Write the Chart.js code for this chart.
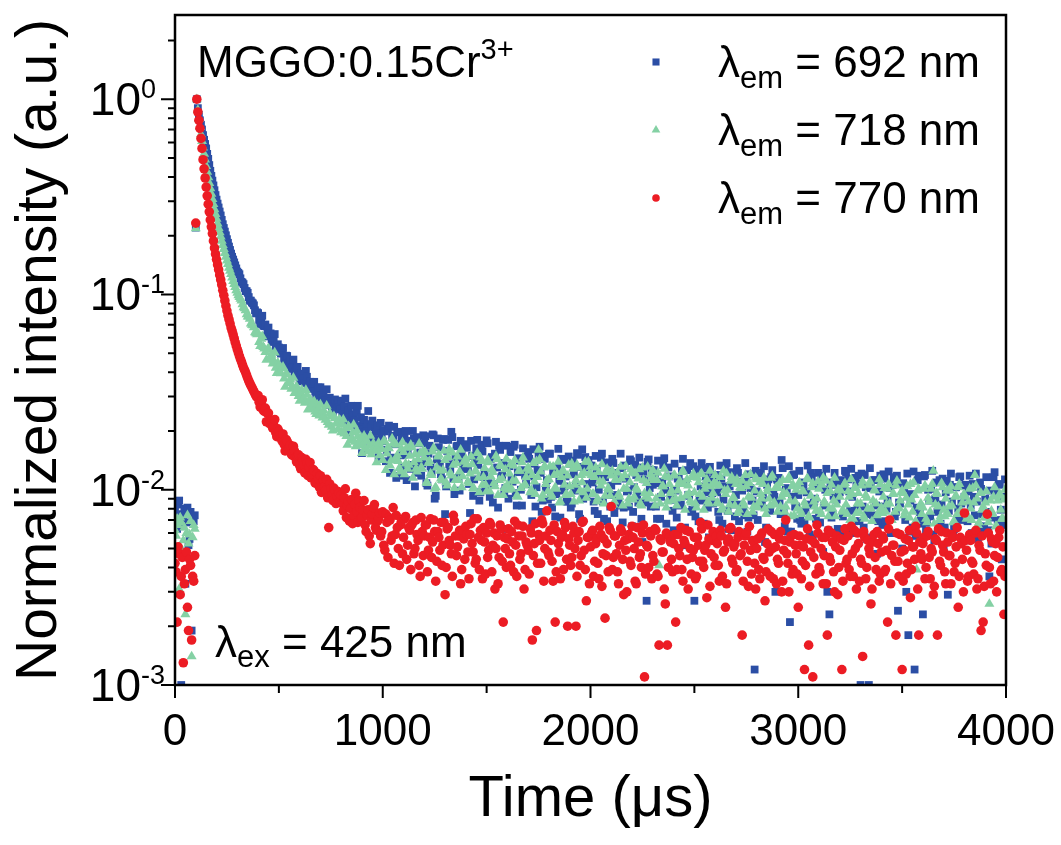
<!DOCTYPE html>
<html>
<head>
<meta charset="utf-8">
<script src="https://cdn.jsdelivr.net/npm/chart.js@4/dist/chart.umd.min.js"></script>
<style>
    html, body { margin: 0; background: #fff; }
</style>
</head>
<body>
<canvas id="decay" width="1061" height="845"></canvas>
<script>
// sampling interval of the decay curves (µs); sample i is at t = i * timeStep
const timeStep = 5;
const emissionNm = [692, 718, 770];
const xTickValues = [0, 1000, 2000, 3000, 4000];
const yDecades = [1, 0.1, 0.01, 0.001];
const yExponents = ['0', '-1', '-2', '-3'];

// one row = 100 µs
const intensity692 = [
    0.0078, 0.0072, 0.0063, 0.0084, 0.0088, 0.0065, 0.0010, 0.0075, 0.0071, 0.0080, 0.0033, 0.0068, 0.0081, 0.0052, 0.0056, 0.0077, 0.0019, 0.0070, 0.0069, 0.0074,
    0.220, 1.0, 0.90, 0.83, 0.78, 0.74, 0.70, 0.655, 0.62, 0.59, 0.56, 0.525, 0.495, 0.46, 0.43, 0.405, 0.383, 0.362, 0.342, 0.323,
    0.306, 0.292, 0.279, 0.266, 0.254, 0.241, 0.229, 0.219, 0.210, 0.201, 0.192, 0.184, 0.176, 0.169, 0.162, 0.156, 0.151, 0.146, 0.141, 0.136,
    0.131, 0.129, 0.127, 0.121, 0.116, 0.115, 0.113, 0.108, 0.104, 0.104, 0.102, 0.097, 0.093, 0.093, 0.091, 0.090, 0.088, 0.083, 0.080, 0.081,
    0.0803, 0.0741, 0.0705, 0.0758, 0.0778, 0.0693, 0.0688, 0.0702, 0.0610, 0.0664, 0.0677, 0.0621, 0.0632, 0.0589, 0.0571, 0.0602, 0.0627, 0.0543, 0.0512, 0.0556,
    0.0535, 0.0509, 0.0498, 0.0521, 0.0532, 0.0471, 0.0433, 0.0486, 0.0484, 0.0442, 0.0450, 0.0457, 0.0416, 0.0425, 0.0464, 0.0401, 0.0406, 0.0419, 0.0426, 0.0384,
    0.0359, 0.0381, 0.0393, 0.0366, 0.0370, 0.0352, 0.0406, 0.0379, 0.0337, 0.0346, 0.0357, 0.0331, 0.0328, 0.0349, 0.0357, 0.0318, 0.0297, 0.0322, 0.0334, 0.0305,
    0.0335, 0.0301, 0.0295, 0.0312, 0.0277, 0.0288, 0.0327, 0.0279, 0.0272, 0.0296, 0.0283, 0.0268, 0.0249, 0.0281, 0.0290, 0.0262, 0.0276, 0.0284, 0.0263, 0.0258,
    0.0286, 0.0247, 0.0221, 0.0268, 0.0293, 0.0231, 0.0238, 0.0256, 0.0191, 0.0219, 0.0269, 0.0244, 0.0241, 0.0226, 0.0204, 0.0251, 0.0269, 0.0212, 0.0206, 0.0235,
    0.0154, 0.0224, 0.0228, 0.0196, 0.0208, 0.0217, 0.0253, 0.0188, 0.0173, 0.0209, 0.0226, 0.0181, 0.0182, 0.0203, 0.0199, 0.0214, 0.0147, 0.0178, 0.0220, 0.0195,
    0.0177, 0.0202, 0.0199, 0.0140, 0.0160, 0.0205, 0.0213, 0.0122, 0.0146, 0.0189, 0.0185, 0.0210, 0.0171, 0.0115, 0.0197, 0.0198, 0.0118, 0.0150, 0.0184, 0.0130,
    0.0151, 0.0195, 0.0200, 0.0112, 0.0157, 0.0178, 0.0167, 0.0128, 0.0134, 0.0200, 0.0183, 0.0104, 0.0122, 0.0186, 0.0173, 0.0138, 0.0155, 0.0118, 0.0136, 0.0190,
    0.0173, 0.0188, 0.0108, 0.0105, 0.0153, 0.0168, 0.0132, 0.0123, 0.0192, 0.0190, 0.0090, 0.0093, 0.0143, 0.0183, 0.0165, 0.0135, 0.0120, 0.0113, 0.0180, 0.0182,
    0.0075, 0.0104, 0.0158, 0.0180, 0.0135, 0.0127, 0.0198, 0.0186, 0.0114, 0.0095, 0.0147, 0.0167, 0.0168, 0.0115, 0.0099, 0.0178, 0.0150, 0.0137, 0.0128, 0.0170,
    0.0171, 0.0164, 0.0128, 0.0107, 0.0076, 0.0178, 0.0149, 0.0093, 0.0113, 0.0144, 0.0163, 0.0180, 0.0134, 0.0088, 0.0097, 0.0170, 0.0157, 0.0116, 0.0123, 0.0101,
    0.0179, 0.0173, 0.0108, 0.0092, 0.0144, 0.0147, 0.0086, 0.0107, 0.0153, 0.0176, 0.0130, 0.0081, 0.0168, 0.0160, 0.0116, 0.0118, 0.0137, 0.0098, 0.0102, 0.0168,
    0.0063, 0.0090, 0.0132, 0.0156, 0.0113, 0.0110, 0.0166, 0.0170, 0.0096, 0.0083, 0.0123, 0.0145, 0.0141, 0.0100, 0.0083, 0.0163, 0.0126, 0.0119, 0.0107, 0.0148,
    0.0156, 0.0144, 0.0117, 0.0094, 0.0069, 0.0161, 0.0136, 0.0082, 0.0103, 0.0126, 0.0149, 0.0166, 0.0122, 0.0077, 0.0088, 0.0149, 0.0144, 0.0102, 0.0112, 0.0089,
    0.0153, 0.0153, 0.0092, 0.0081, 0.0123, 0.0130, 0.0073, 0.0095, 0.0131, 0.0162, 0.0111, 0.0072, 0.0144, 0.0142, 0.0099, 0.0104, 0.0117, 0.0087, 0.0087, 0.0148,
    0.0136, 0.0081, 0.0085, 0.0141, 0.0120, 0.0099, 0.0104, 0.0154, 0.0151, 0.0075, 0.0071, 0.0131, 0.0161, 0.0090, 0.0130, 0.0147, 0.0094, 0.0107, 0.0142, 0.0133,
    0.0132, 0.0133, 0.0109, 0.0087, 0.0078, 0.0149, 0.0128, 0.0075, 0.0100, 0.0117, 0.0146, 0.0153, 0.0087, 0.0071, 0.0116, 0.0138, 0.0069, 0.0094, 0.0124, 0.0082,
    0.0105, 0.0144, 0.0137, 0.0076, 0.0094, 0.0122, 0.0111, 0.0089, 0.0083, 0.0153, 0.0129, 0.0068, 0.0081, 0.0133, 0.0114, 0.0098, 0.0099, 0.0082, 0.0143, 0.0140,
    0.0065, 0.0077, 0.0103, 0.0134, 0.0119, 0.0094, 0.0086, 0.0146, 0.0130, 0.0071, 0.0054, 0.0124, 0.0113, 0.0086, 0.0027, 0.0139, 0.0143, 0.0102, 0.0082, 0.0126,
    0.0106, 0.0126, 0.0121, 0.0082, 0.0071, 0.0141, 0.0108, 0.0071, 0.0092, 0.0110, 0.0134, 0.0145, 0.0100, 0.0067, 0.0059, 0.0130, 0.0117, 0.0089, 0.0089, 0.0078,
    0.0062, 0.0136, 0.0099, 0.0072, 0.0114, 0.0115, 0.0083, 0.0084, 0.0125, 0.0144, 0.0052, 0.0064, 0.0109, 0.0126, 0.0094, 0.0093, 0.0137, 0.0077, 0.0079, 0.0132,
    0.0027, 0.0073, 0.0127, 0.0126, 0.0069, 0.0089, 0.0104, 0.0137, 0.0088, 0.0067, 0.0129, 0.0117, 0.0097, 0.0081, 0.0057, 0.0131, 0.0112, 0.0096, 0.0085, 0.0119,
    0.0118, 0.0119, 0.0097, 0.0077, 0.0070, 0.0133, 0.0114, 0.0067, 0.0089, 0.0104, 0.0130, 0.0137, 0.0078, 0.0063, 0.0104, 0.0123, 0.0062, 0.0084, 0.0111, 0.0073,
    0.0094, 0.0129, 0.0122, 0.0069, 0.0084, 0.0110, 0.0099, 0.0080, 0.0074, 0.0137, 0.0115, 0.0061, 0.0072, 0.0120, 0.0102, 0.0088, 0.0088, 0.0074, 0.0012, 0.0125,
    0.0098, 0.0070, 0.0083, 0.0121, 0.0122, 0.0085, 0.0091, 0.0132, 0.0054, 0.0064, 0.0106, 0.0113, 0.0080, 0.0078, 0.0116, 0.0126, 0.0095, 0.0092, 0.0030, 0.0114,
    0.0112, 0.0115, 0.0087, 0.0075, 0.0142, 0.0129, 0.0076, 0.0065, 0.0102, 0.0101, 0.0061, 0.0132, 0.0021, 0.0061, 0.0092, 0.0119, 0.0120, 0.0082, 0.0082, 0.0071,
    0.0094, 0.0125, 0.0070, 0.0067, 0.0109, 0.0106, 0.0068, 0.0078, 0.0097, 0.0133, 0.0084, 0.0059, 0.0122, 0.0116, 0.0057, 0.0086, 0.0090, 0.0071, 0.0105, 0.0122,
    0.0076, 0.0068, 0.0114, 0.0118, 0.0048, 0.0083, 0.0100, 0.0128, 0.0030, 0.0062, 0.0023, 0.0109, 0.0072, 0.0075, 0.0093, 0.0122, 0.0106, 0.0089, 0.0063, 0.0111,
    0.0097, 0.0112, 0.0058, 0.0073, 0.0103, 0.0125, 0.0123, 0.0063, 0.0113, 0.0098, 0.0078, 0.0128, 0.0092, 0.0060, 0.0069, 0.0115, 0.0107, 0.0079, 0.0118, 0.0069,
    0.0010, 0.0121, 0.0082, 0.0064, 0.0119, 0.0103, 0.0056, 0.0075, 0.0010, 0.0129, 0.0102, 0.0057, 0.0074, 0.0112, 0.0112, 0.0083, 0.0047, 0.0069, 0.0098, 0.0118,
    0.0082, 0.0066, 0.0120, 0.0114, 0.0069, 0.0080, 0.0089, 0.0124, 0.0102, 0.0060, 0.0060, 0.0106, 0.0116, 0.0073, 0.0077, 0.0118, 0.0024, 0.0086, 0.0085, 0.0107,
    0.0050, 0.0108, 0.0098, 0.0070, 0.0030, 0.0121, 0.0018, 0.0061, 0.0088, 0.0095, 0.0064, 0.0124, 0.0012, 0.0058, 0.0081, 0.0112, 0.0118, 0.0077, 0.0071, 0.0067,
    0.0023, 0.0117, 0.0119, 0.0062, 0.0068, 0.0100, 0.0088, 0.0073, 0.0101, 0.0125, 0.0059, 0.0055, 0.0090, 0.0109, 0.0077, 0.0080, 0.0112, 0.0067, 0.0084, 0.0114,
    0.0050, 0.0064, 0.0097, 0.0111, 0.0029, 0.0078, 0.0106, 0.0121, 0.0087, 0.0059, 0.0063, 0.0103, 0.0103, 0.0071, 0.0080, 0.0116, 0.0117, 0.0085, 0.0070, 0.0105,
    0.0092, 0.0106, 0.0055, 0.0069, 0.0098, 0.0118, 0.0083, 0.0060, 0.0107, 0.0092, 0.0074, 0.0121, 0.0087, 0.0056, 0.0065, 0.0109, 0.0101, 0.0075, 0.0063, 0.0065,
    0.0090, 0.0116, 0.0077, 0.0062, 0.0036, 0.0099, 0.0053, 0.0072, 0.0116, 0.0123, 0.0097, 0.0055, 0.0070, 0.0107, 0.0106, 0.0079, 0.0044, 0.0066, 0.0092, 0.0113
];

const intensity718 = [
    0.0062, 0.0058, 0.0071, 0.0066, 0.0031, 0.0072, 0.0068, 0.0049, 0.0055, 0.0064, 0.0023, 0.0060, 0.0074, 0.0053, 0.0059, 0.0069, 0.0014, 0.0057, 0.0066, 0.0063,
    0.218, 1.0, 0.88, 0.79, 0.72, 0.66, 0.61, 0.565, 0.525, 0.49, 0.455, 0.425, 0.398, 0.372, 0.35, 0.328, 0.308, 0.29, 0.273, 0.258,
    0.244, 0.231, 0.219, 0.208, 0.198, 0.188, 0.179, 0.171, 0.163, 0.156, 0.149, 0.143, 0.137, 0.132, 0.127, 0.122, 0.117, 0.113, 0.109, 0.105,
    0.102, 0.099, 0.097, 0.095, 0.093, 0.089, 0.086, 0.085, 0.083, 0.079, 0.077, 0.077, 0.075, 0.071, 0.0698, 0.0695, 0.0678, 0.064, 0.0632, 0.0625,
    0.0634, 0.0571, 0.0544, 0.0592, 0.0610, 0.0538, 0.0529, 0.0507, 0.0463, 0.0522, 0.0530, 0.0468, 0.0485, 0.0491, 0.0442, 0.0459, 0.0504, 0.0421, 0.0396, 0.0447,
    0.0433, 0.0402, 0.0395, 0.0418, 0.0426, 0.0371, 0.0336, 0.0392, 0.0389, 0.0351, 0.0360, 0.0367, 0.0329, 0.0338, 0.0374, 0.0313, 0.0315, 0.0339, 0.0326, 0.0302,
    0.0285, 0.0312, 0.0325, 0.0291, 0.0295, 0.0279, 0.0324, 0.0306, 0.0257, 0.0283, 0.0291, 0.0262, 0.0266, 0.0278, 0.0284, 0.0251, 0.0244, 0.0272, 0.0259, 0.0240,
    0.0273, 0.0241, 0.0234, 0.0256, 0.0237, 0.0228, 0.0269, 0.0222, 0.0215, 0.0247, 0.0237, 0.0210, 0.0201, 0.0238, 0.0233, 0.0219, 0.0218, 0.0204, 0.0229, 0.0226,
    0.0197, 0.0215, 0.0229, 0.0194, 0.0206, 0.0188, 0.0170, 0.0211, 0.0208, 0.0179, 0.0184, 0.0196, 0.0215, 0.0176, 0.0167, 0.0201, 0.0188, 0.0169, 0.0176, 0.0184,
    0.0154, 0.0171, 0.0189, 0.0162, 0.0180, 0.0177, 0.0157, 0.0168, 0.0189, 0.0152, 0.0159, 0.0173, 0.0164, 0.0158, 0.0138, 0.0166, 0.0174, 0.0150, 0.0164, 0.0161,
    0.0142, 0.0178, 0.0176, 0.0126, 0.0153, 0.0165, 0.0163, 0.0133, 0.0141, 0.0183, 0.0173, 0.0120, 0.0143, 0.0170, 0.0150, 0.0140, 0.0129, 0.0124, 0.0162, 0.0175,
    0.0156, 0.0120, 0.0136, 0.0164, 0.0128, 0.0134, 0.0149, 0.0170, 0.0165, 0.0115, 0.0138, 0.0152, 0.0128, 0.0124, 0.0143, 0.0172, 0.0154, 0.0130, 0.0128, 0.0158,
    0.0146, 0.0156, 0.0109, 0.0108, 0.0137, 0.0140, 0.0121, 0.0119, 0.0157, 0.0164, 0.0101, 0.0103, 0.0130, 0.0148, 0.0151, 0.0125, 0.0114, 0.0112, 0.0126, 0.0158,
    0.0142, 0.0109, 0.0105, 0.0147, 0.0161, 0.0122, 0.0118, 0.0155, 0.0134, 0.0102, 0.0112, 0.0137, 0.0148, 0.0112, 0.0124, 0.0160, 0.0103, 0.0117, 0.0139, 0.0140,
    0.0144, 0.0135, 0.0110, 0.0108, 0.0121, 0.0148, 0.0135, 0.0102, 0.0101, 0.0125, 0.0124, 0.0154, 0.0115, 0.0097, 0.0146, 0.0140, 0.0106, 0.0116, 0.0129, 0.0106,
    0.0098, 0.0142, 0.0138, 0.0098, 0.0117, 0.0127, 0.0123, 0.0108, 0.0104, 0.0149, 0.0143, 0.0094, 0.0112, 0.0134, 0.0132, 0.0114, 0.0094, 0.0102, 0.0127, 0.0144,
    0.0106, 0.0100, 0.0121, 0.0135, 0.0101, 0.0111, 0.0133, 0.0142, 0.0111, 0.0093, 0.0092, 0.0125, 0.0125, 0.0102, 0.0138, 0.0146, 0.0105, 0.0107, 0.0116, 0.0128,
    0.0130, 0.0125, 0.0097, 0.0100, 0.0119, 0.0137, 0.0110, 0.0095, 0.0140, 0.0116, 0.0160, 0.0143, 0.0124, 0.0090, 0.0094, 0.0130, 0.0132, 0.0107, 0.0112, 0.0098,
    0.0113, 0.0132, 0.0095, 0.0092, 0.0131, 0.0119, 0.0103, 0.0101, 0.0121, 0.0139, 0.0086, 0.0087, 0.0116, 0.0125, 0.0125, 0.0106, 0.0094, 0.0095, 0.0118, 0.0134,
    0.0104, 0.0095, 0.0136, 0.0128, 0.0087, 0.0106, 0.0112, 0.0134, 0.0130, 0.0088, 0.0099, 0.0119, 0.0109, 0.0097, 0.0122, 0.0139, 0.0091, 0.0101, 0.0139, 0.0121,
    0.0131, 0.0119, 0.0095, 0.0095, 0.0116, 0.0130, 0.0087, 0.0090, 0.0123, 0.0110, 0.0105, 0.0135, 0.0110, 0.0085, 0.0093, 0.0123, 0.0128, 0.0102, 0.0100, 0.0093,
    0.0118, 0.0125, 0.0084, 0.0087, 0.0113, 0.0112, 0.0122, 0.0095, 0.0092, 0.0131, 0.0114, 0.0083, 0.0101, 0.0119, 0.0132, 0.0101, 0.0085, 0.0090, 0.0109, 0.0127,
    0.0122, 0.0089, 0.0092, 0.0121, 0.0102, 0.0100, 0.0114, 0.0127, 0.0085, 0.0083, 0.0130, 0.0112, 0.0096, 0.0092, 0.0108, 0.0131, 0.0090, 0.0096, 0.0120, 0.0114,
    0.0126, 0.0112, 0.0083, 0.0090, 0.0112, 0.0122, 0.0041, 0.0085, 0.0095, 0.0104, 0.0104, 0.0128, 0.0117, 0.0081, 0.0087, 0.0116, 0.0107, 0.0096, 0.0099, 0.0088,
    0.0118, 0.0119, 0.0090, 0.0083, 0.0099, 0.0107, 0.0111, 0.0091, 0.0123, 0.0125, 0.0107, 0.0079, 0.0093, 0.0113, 0.0105, 0.0096, 0.0088, 0.0086, 0.0116, 0.0121,
    0.0097, 0.0085, 0.0081, 0.0115, 0.0109, 0.0095, 0.0120, 0.0121, 0.0092, 0.0079, 0.0101, 0.0107, 0.0113, 0.0087, 0.0085, 0.0125, 0.0104, 0.0091, 0.0096, 0.0109,
    0.0119, 0.0107, 0.0086, 0.0085, 0.0105, 0.0116, 0.0079, 0.0081, 0.0125, 0.0099, 0.0095, 0.0121, 0.0100, 0.0077, 0.0084, 0.0111, 0.0116, 0.0091, 0.0091, 0.0083,
    0.0107, 0.0113, 0.0076, 0.0079, 0.0103, 0.0102, 0.0111, 0.0086, 0.0083, 0.0119, 0.0104, 0.0075, 0.0092, 0.0108, 0.0120, 0.0091, 0.0077, 0.0082, 0.0099, 0.0115,
    0.0113, 0.0081, 0.0086, 0.0109, 0.0095, 0.0090, 0.0107, 0.0115, 0.0080, 0.0075, 0.0098, 0.0102, 0.0090, 0.0083, 0.0115, 0.0118, 0.0084, 0.0086, 0.0102, 0.0103,
    0.0077, 0.0102, 0.0108, 0.0082, 0.0092, 0.0112, 0.0097, 0.0077, 0.0082, 0.0095, 0.0112, 0.0116, 0.0088, 0.0073, 0.0104, 0.0106, 0.0074, 0.0087, 0.0100, 0.0080,
    0.0104, 0.0109, 0.0078, 0.0075, 0.0098, 0.0098, 0.0086, 0.0083, 0.0113, 0.0114, 0.0073, 0.0072, 0.0093, 0.0103, 0.0108, 0.0087, 0.0082, 0.0078, 0.0090, 0.0110,
    0.0101, 0.0078, 0.0075, 0.0106, 0.0115, 0.0087, 0.0085, 0.0111, 0.0096, 0.0073, 0.0080, 0.0098, 0.0106, 0.0080, 0.0088, 0.0115, 0.0073, 0.0084, 0.0100, 0.0100,
    0.0092, 0.0099, 0.0077, 0.0079, 0.0106, 0.0108, 0.0084, 0.0075, 0.0098, 0.0092, 0.0070, 0.0113, 0.0095, 0.0071, 0.0102, 0.0103, 0.0076, 0.0085, 0.0096, 0.0077,
    0.0085, 0.0105, 0.0110, 0.0073, 0.0071, 0.0094, 0.0091, 0.0080, 0.0106, 0.0110, 0.0080, 0.0069, 0.0088, 0.0100, 0.0099, 0.0085, 0.0074, 0.0076, 0.0113, 0.0107,
    0.0081, 0.0076, 0.0092, 0.0102, 0.0077, 0.0084, 0.0101, 0.0107, 0.0085, 0.0070, 0.0070, 0.0095, 0.0095, 0.0077, 0.0105, 0.0111, 0.0080, 0.0081, 0.0088, 0.0097,
    0.0099, 0.0096, 0.0074, 0.0077, 0.0091, 0.0104, 0.0084, 0.0072, 0.0107, 0.0089, 0.0077, 0.0109, 0.0094, 0.0069, 0.0039, 0.0099, 0.0101, 0.0082, 0.0085, 0.0075,
    0.0081, 0.0101, 0.0105, 0.0071, 0.0068, 0.0091, 0.0087, 0.0077, 0.0101, 0.0107, 0.0125, 0.0067, 0.0084, 0.0096, 0.0095, 0.0082, 0.0070, 0.0073, 0.0108, 0.0103,
    0.0079, 0.0073, 0.0090, 0.0099, 0.0075, 0.0082, 0.0099, 0.0104, 0.0083, 0.0068, 0.0069, 0.0092, 0.0093, 0.0075, 0.0103, 0.0107, 0.0078, 0.0078, 0.0086, 0.0094,
    0.0094, 0.0092, 0.0071, 0.0074, 0.0087, 0.0101, 0.0080, 0.0070, 0.0102, 0.0086, 0.0119, 0.0105, 0.0090, 0.0066, 0.0068, 0.0096, 0.0096, 0.0079, 0.0082, 0.0072,
    0.0086, 0.0098, 0.0072, 0.0068, 0.0026, 0.0088, 0.0078, 0.0075, 0.0092, 0.0103, 0.0065, 0.0065, 0.0088, 0.0093, 0.0095, 0.0079, 0.0071, 0.0071, 0.0089, 0.0100
];

const intensity770 = [
    0.0042, 0.0038, 0.0021, 0.0051, 0.0047, 0.0029, 0.0036, 0.0045, 0.0013, 0.0033, 0.0039, 0.0048, 0.0025, 0.0019, 0.0044, 0.0041, 0.0017, 0.0036, 0.0034, 0.0046,
    0.232, 1.0, 0.86, 0.78, 0.71, 0.63, 0.56, 0.49, 0.44, 0.395, 0.355, 0.32, 0.29, 0.265, 0.241, 0.222, 0.205, 0.188, 0.173, 0.161,
    0.151, 0.142, 0.134, 0.126, 0.119, 0.112, 0.105, 0.099, 0.093, 0.0875, 0.0825, 0.078, 0.0745, 0.071, 0.0675, 0.065, 0.0622, 0.0595, 0.0568, 0.0545,
    0.0523, 0.0503, 0.0484, 0.0467, 0.0452, 0.0436, 0.0421, 0.041, 0.0398, 0.0385, 0.0372, 0.0361, 0.0351, 0.0342, 0.0334, 0.0326, 0.0318, 0.031, 0.0303, 0.0297,
    0.0304, 0.0281, 0.0265, 0.0279, 0.0289, 0.0255, 0.0252, 0.0262, 0.0223, 0.0246, 0.0247, 0.0218, 0.0227, 0.0224, 0.0207, 0.0214, 0.0229, 0.0196, 0.0187, 0.0205,
    0.0199, 0.0189, 0.0184, 0.0178, 0.0193, 0.0171, 0.0158, 0.0181, 0.0177, 0.0160, 0.0165, 0.0169, 0.0152, 0.0150, 0.0167, 0.0158, 0.0146, 0.0139, 0.0149, 0.0151,
    0.0133, 0.0128, 0.0146, 0.0141, 0.0134, 0.0122, 0.0143, 0.0137, 0.0118, 0.0131, 0.0138, 0.0115, 0.0120, 0.0127, 0.0125, 0.0108, 0.0109, 0.0121, 0.0114, 0.0103,
    0.0118, 0.0097, 0.0104, 0.0112, 0.0104, 0.0099, 0.0113, 0.0091, 0.0064, 0.0107, 0.0101, 0.0094, 0.0088, 0.0102, 0.0099, 0.0085, 0.0093, 0.0098, 0.0096, 0.0087,
    0.0094, 0.0085, 0.0078, 0.0091, 0.0101, 0.0072, 0.0083, 0.0087, 0.0069, 0.0080, 0.0089, 0.0067, 0.0074, 0.0084, 0.0096, 0.0077, 0.0068, 0.0088, 0.0081, 0.0071,
    0.0072, 0.0079, 0.0088, 0.0066, 0.0061, 0.0074, 0.0079, 0.0058, 0.0053, 0.0070, 0.0075, 0.0081, 0.0084, 0.0064, 0.0062, 0.0069, 0.0071, 0.0076, 0.0058, 0.0061,
    0.0077, 0.0052, 0.0049, 0.0075, 0.0068, 0.0045, 0.0072, 0.0070, 0.0055, 0.0058, 0.0081, 0.0042, 0.0059, 0.0074, 0.0064, 0.0050, 0.0041, 0.0066, 0.0069, 0.0047,
    0.0057, 0.0071, 0.0073, 0.0044, 0.0052, 0.0064, 0.0062, 0.0039, 0.0066, 0.0068, 0.0047, 0.0050, 0.0070, 0.0059, 0.0055, 0.0041, 0.0036, 0.0072, 0.0061, 0.0046,
    0.0058, 0.0066, 0.0066, 0.0038, 0.0049, 0.0057, 0.0071, 0.0045, 0.0054, 0.0070, 0.0061, 0.0034, 0.0043, 0.0061, 0.0057, 0.0049, 0.0068, 0.0041, 0.0052, 0.0068,
    0.0029, 0.0040, 0.0063, 0.0064, 0.0055, 0.0052, 0.0047, 0.0036, 0.0074, 0.0069, 0.0058, 0.0046, 0.0051, 0.0058, 0.0062, 0.0033, 0.0039, 0.0062, 0.0056, 0.0044,
    0.0065, 0.0059, 0.0048, 0.0035, 0.0059, 0.0067, 0.0053, 0.0048, 0.0071, 0.0042, 0.0044, 0.0071, 0.0057, 0.0039, 0.0062, 0.0055, 0.0035, 0.0064, 0.0054, 0.0037,
    0.0060, 0.0045, 0.0049, 0.0068, 0.0066, 0.0038, 0.0052, 0.0060, 0.0031, 0.0050, 0.0058, 0.0033, 0.0045, 0.0066, 0.0063, 0.0043, 0.0021, 0.0057, 0.0050, 0.0040,
    0.0056, 0.0063, 0.0047, 0.0041, 0.0061, 0.0054, 0.0038, 0.0069, 0.0052, 0.0036, 0.0066, 0.0058, 0.0044, 0.0047, 0.0058, 0.0065, 0.0031, 0.0039, 0.0054, 0.0052,
    0.0049, 0.0037, 0.0063, 0.0060, 0.0017, 0.0046, 0.0053, 0.0067, 0.0019, 0.0042, 0.0059, 0.0055, 0.0042, 0.0070, 0.0067, 0.0034, 0.0050, 0.0058, 0.0078, 0.0048,
    0.0046, 0.0062, 0.0055, 0.0043, 0.0034, 0.0066, 0.0021, 0.0038, 0.0061, 0.0053, 0.0048, 0.0035, 0.0057, 0.0059, 0.0039, 0.0068, 0.0064, 0.0044, 0.0020, 0.0056,
    0.0052, 0.0041, 0.0045, 0.0065, 0.0060, 0.0050, 0.0020, 0.0036, 0.0055, 0.0061, 0.0041, 0.0046, 0.0068, 0.0069, 0.0049, 0.0039, 0.0027, 0.0057, 0.0057, 0.0033,
    0.0051, 0.0060, 0.0062, 0.0036, 0.0043, 0.0053, 0.0056, 0.0042, 0.0035, 0.0065, 0.0059, 0.0032, 0.0047, 0.0056, 0.0022, 0.0046, 0.0053, 0.0038, 0.0064, 0.0062,
    0.0082, 0.0039, 0.0045, 0.0058, 0.0058, 0.0047, 0.0038, 0.0033, 0.0052, 0.0063, 0.0061, 0.0044, 0.0029, 0.0055, 0.0049, 0.0030, 0.0056, 0.0059, 0.0043, 0.0041,
    0.0065, 0.0057, 0.0050, 0.0034, 0.0033, 0.0064, 0.0054, 0.0045, 0.0047, 0.0040, 0.0060, 0.0066, 0.0011, 0.0037, 0.0052, 0.0051, 0.0040, 0.0061, 0.0058, 0.0035,
    0.0046, 0.0043, 0.0063, 0.0062, 0.0037, 0.0036, 0.0016, 0.0056, 0.0055, 0.0048, 0.0048, 0.0031, 0.0026, 0.0060, 0.0016, 0.0040, 0.0057, 0.0054, 0.0044, 0.0038,
    0.0053, 0.0059, 0.0021, 0.0039, 0.0059, 0.0050, 0.0046, 0.0064, 0.0039, 0.0034, 0.0055, 0.0053, 0.0062, 0.0044, 0.0031, 0.0061, 0.0050, 0.0037, 0.0045, 0.0049,
    0.0057, 0.0035, 0.0036, 0.0057, 0.0052, 0.0043, 0.0068, 0.0063, 0.0043, 0.0040, 0.0049, 0.0052, 0.0028, 0.0066, 0.0056, 0.0032, 0.0047, 0.0055, 0.0061, 0.0045,
    0.0041, 0.0058, 0.0053, 0.0041, 0.0034, 0.0062, 0.0058, 0.0036, 0.0048, 0.0049, 0.0025, 0.0033, 0.0054, 0.0056, 0.0063, 0.0064, 0.0044, 0.0042, 0.0051, 0.0053,
    0.0038, 0.0039, 0.0057, 0.0061, 0.0046, 0.0047, 0.0018, 0.0034, 0.0052, 0.0058, 0.0060, 0.0043, 0.0032, 0.0065, 0.0049, 0.0037, 0.0055, 0.0054, 0.0042, 0.0031,
    0.0050, 0.0056, 0.0039, 0.0035, 0.0058, 0.0060, 0.0045, 0.0044, 0.0027, 0.0038, 0.0053, 0.0063, 0.0048, 0.0036, 0.0061, 0.0050, 0.0035, 0.0059, 0.0051, 0.0033,
    0.0044, 0.0042, 0.0056, 0.0061, 0.0030, 0.0034, 0.0049, 0.0055, 0.0070, 0.0047, 0.0042, 0.0030, 0.0054, 0.0058, 0.0037, 0.0039, 0.0059, 0.0052, 0.0047, 0.0037,
    0.0025, 0.0058, 0.0052, 0.0035, 0.0043, 0.0051, 0.0012, 0.0041, 0.0056, 0.0063, 0.0016, 0.0032, 0.0048, 0.0055, 0.0011, 0.0045, 0.0053, 0.0037, 0.0066, 0.0060,
    0.0040, 0.0038, 0.0050, 0.0057, 0.0033, 0.0046, 0.0057, 0.0033, 0.0018, 0.0062, 0.0045, 0.0043, 0.0060, 0.0054, 0.0038, 0.0030, 0.0051, 0.0058, 0.0029, 0.0040,
    0.0049, 0.0056, 0.0012, 0.0034, 0.0055, 0.0063, 0.0042, 0.0044, 0.0058, 0.0039, 0.0036, 0.0065, 0.0047, 0.0036, 0.0062, 0.0050, 0.0031, 0.0060, 0.0053, 0.0034,
    0.0044, 0.0042, 0.0014, 0.0061, 0.0057, 0.0035, 0.0040, 0.0055, 0.0050, 0.0047, 0.0026, 0.0031, 0.0054, 0.0059, 0.0045, 0.0039, 0.0061, 0.0053, 0.0034, 0.0037,
    0.0048, 0.0058, 0.0056, 0.0038, 0.0039, 0.0049, 0.0021, 0.0063, 0.0070, 0.0033, 0.0046, 0.0052, 0.0052, 0.0043, 0.0018, 0.0060, 0.0043, 0.0036, 0.0059, 0.0048,
    0.0012, 0.0034, 0.0049, 0.0056, 0.0037, 0.0042, 0.0055, 0.0062, 0.0028, 0.0039, 0.0051, 0.0051, 0.0044, 0.0065, 0.0060, 0.0031, 0.0018, 0.0054, 0.0047, 0.0044,
    0.0053, 0.0057, 0.0035, 0.0040, 0.0058, 0.0061, 0.0045, 0.0035, 0.0050, 0.0048, 0.0029, 0.0032, 0.0056, 0.0055, 0.0018, 0.0063, 0.0043, 0.0041, 0.0061, 0.0052,
    0.0048, 0.0038, 0.0033, 0.0060, 0.0054, 0.0046, 0.0046, 0.0033, 0.0059, 0.0057, 0.0038, 0.0042, 0.0051, 0.0064, 0.0025, 0.0036, 0.0057, 0.0053, 0.0044, 0.0030,
    0.0076, 0.0055, 0.0049, 0.0034, 0.0036, 0.0059, 0.0055, 0.0043, 0.0042, 0.0037, 0.0060, 0.0062, 0.0031, 0.0035, 0.0052, 0.0049, 0.0019, 0.0058, 0.0021, 0.0032,
    0.0047, 0.0041, 0.0075, 0.0060, 0.0040, 0.0033, 0.0056, 0.0054, 0.0034, 0.0046, 0.0053, 0.0030, 0.0045, 0.0057, 0.0062, 0.0038, 0.0039, 0.0051, 0.0023, 0.0036
];

const FONT = "'Liberation Sans', Arial, sans-serif";
const colors = ['#2b4ea5', '#84d1a4', '#ec1c24'];
const markers = ['rect', 'triangle', 'circle'];
const markerRadius = [5.5, 5.8, 4.8];

function to_points(values) {
    return values.map((v, i) => ({x: i * timeStep, y: v}));
}

// draws a run of text pieces left to right, each with its own size and baseline shift
function draw_rich(ctx, x, y, parts) {
    ctx.textAlign = 'left';
    ctx.textBaseline = 'alphabetic';
    parts.forEach(p => {
        ctx.font = p.size + 'px ' + FONT;
        ctx.fillText(p.text, x, y + (p.dy || 0));
        x += ctx.measureText(p.text).width;
    });
}

const decorations = {
    id: 'decorations',
    afterDraw(chart) {
        const ctx = chart.ctx;
        const area = chart.chartArea;
        const xs = chart.scales.x;
        const ys = chart.scales.y;
        ctx.save();
        ctx.strokeStyle = '#000';
        ctx.fillStyle = '#000';

        // ticks
        ctx.lineWidth = 2;
        ctx.beginPath();
        for (let v = xs.min; v <= xs.max; v += 500) {
            const px = xs.getPixelForValue(v);
            const len = v % 1000 === 0 ? 13 : 8;
            ctx.moveTo(px, area.bottom);
            ctx.lineTo(px, area.bottom + len);
        }
        yDecades.forEach(d => {
            for (let m = 1; m <= 9; m++) {
                if (d * m > ys.max) break;
                const py = ys.getPixelForValue(d * m);
                ctx.moveTo(area.left, py);
                ctx.lineTo(area.left - (m === 1 ? 14 : 7), py);
            }
        });
        ctx.stroke();

        // frame
        ctx.lineWidth = 2.5;
        ctx.strokeRect(area.left, area.top, area.right - area.left, area.bottom - area.top);

        // y tick labels 10^n
        yDecades.forEach((d, i) => {
            const py = ys.getPixelForValue(d);
            ctx.font = '46px ' + FONT;
            ctx.textAlign = 'right';
            ctx.textBaseline = 'alphabetic';
            ctx.fillText('10', area.left - 34, py + 16);
            ctx.font = '27px ' + FONT;
            ctx.textAlign = 'left';
            ctx.fillText(yExponents[i], area.left - 34, py - 1);
        });

        // legend
        emissionNm.forEach((nm, i) => {
            const base = 77 + i * 68;
            ctx.fillStyle = colors[i];
            Chart.helpers.drawPoint(ctx, {pointStyle: markers[i], radius: markers[i] === 'circle' ? 3.8 : 5, borderWidth: 0}, 656, base - 15);
            ctx.fillStyle = '#000';
            draw_rich(ctx, 718, base, [
                {text: 'λ', size: 44},
                {text: 'em', size: 31, dy: 11},
                {text: ' = ' + nm + ' nm', size: 44}
            ]);
        });

        draw_rich(ctx, 197, 77, [
            {text: 'MGGO:0.15Cr', size: 44},
            {text: '3+', size: 29, dy: -18}
        ]);
        draw_rich(ctx, 215, 657, [
            {text: 'λ', size: 44},
            {text: 'ex', size: 31, dy: 10},
            {text: ' = 425 nm', size: 44}
        ]);
        ctx.restore();
    }
};

Chart.defaults.font.family = FONT;
Chart.defaults.color = '#000';

const datasets = [intensity692, intensity718, intensity770].map((values, i) => ({
    label: 'λem = ' + emissionNm[i] + ' nm',
    data: to_points(values),
    pointStyle: markers[i],
    pointRadius: markerRadius[i],
    backgroundColor: colors[i],
    borderWidth: 0,
    order: 3 - i
}));

new Chart(document.getElementById('decay'), {
    type: 'scatter',
    data: {datasets: datasets},
    options: {
        responsive: false,
        animation: false,
        devicePixelRatio: 1,
        layout: {padding: {left: 0, top: 15, right: 55, bottom: 0}},
        plugins: {legend: {display: false}, tooltip: {enabled: false}},
        scales: {
            x: {
                type: 'linear',
                min: 0,
                max: 4000,
                afterFit: s => {
                    s.height = 160;
                    s.paddingLeft = 0;
                    s.paddingRight = 0;
                },
                afterBuildTicks: s => { s.ticks = xTickValues.map(v => ({value: v})); },
                grid: {display: false, drawTicks: false},
                border: {display: false},
                ticks: {font: {size: 44}, padding: 21, maxRotation: 0, autoSkip: false, callback: v => String(v)},
                title: {display: true, text: 'Time (μs)', font: {size: 58}, padding: {top: 0, bottom: 10}}
            },
            y: {
                type: 'logarithmic',
                min: 0.001,
                max: 2.7,
                afterFit: s => { s.width = 175; },
                grid: {display: false, drawTicks: false},
                border: {display: false},
                ticks: {display: false},
                title: {display: true, text: 'Normalized intensity (a.u.)', font: {size: 57}, padding: {top: 6, bottom: 0}}
            }
        }
    },
    plugins: [decorations]
});
</script>
</body>
</html>
